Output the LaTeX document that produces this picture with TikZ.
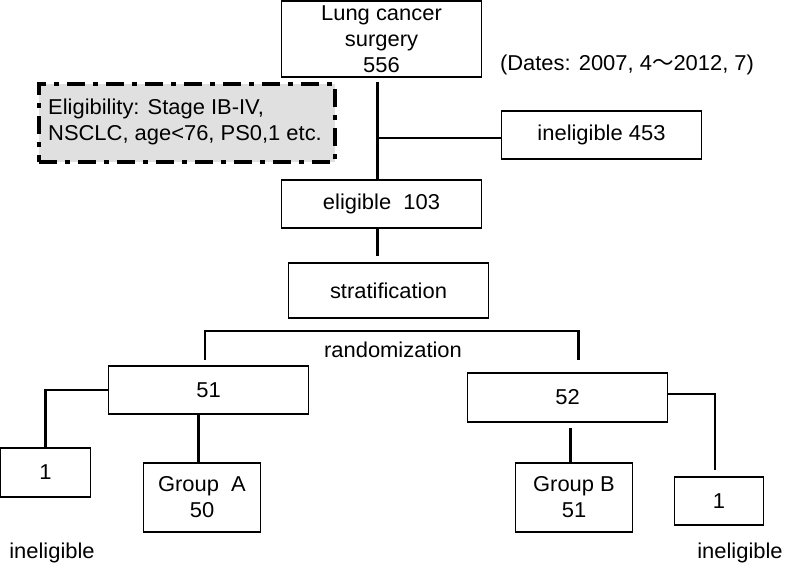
\documentclass[tikz,border=0pt]{standalone}
\usepackage{fontspec}
\setmainfont{Liberation Sans}[FakeStretch=1.02]
\newfontfamily\cjk{Noto Sans CJK JP}
\begin{document}
\begin{tikzpicture}[x=1pt,y=-1pt,
  box/.style={draw=black, line width=1.3pt, inner sep=0pt, minimum width=200pt, minimum height=48pt, align=center},
  conn/.style={line width=2.6pt, line cap=rect},
  lbl/.style={inner sep=0pt, align=center},
  every node/.append style={font=\fontsize{21.5}{26}\selectfont}]
\useasboundingbox (0,0) rectangle (786,567);
% boxes
\node[box, minimum height=76pt] (top) at (381.5,39) {Lung cancer\\surgery\\556};
\node[lbl] (dates) at (627,65) {(Dates: 2007, 4{\cjk ～}2012, 7)};
\node[draw=black, fill=black!12, line width=3.6pt, dash pattern=on 18pt off 8pt on 5pt off 8pt,
      minimum width=296pt, minimum height=78pt, inner sep=0pt] (elig) at (187,123) {};
\node[lbl, align=left, anchor=west] (eligtxt) at (48,122) {Eligibility: Stage IB-IV,\\NSCLC, age<76, PS0,1 etc.};
\node[box] (inel) at (601.5,135) {ineligible 453};
\node[box] (e103) at (381.5,204) {eligible\ \ 103};
\node[box, minimum height=55pt] (strat) at (388.5,290.5) {stratification};
\node[lbl] (rand) at (393,350) {randomization};
\node[box] (b51) at (208.5,390) {51};
\node[box, minimum height=49pt] (b52) at (567.5,397.5) {52};
\node[box, minimum width=90pt, minimum height=49pt] (l1) at (45.5,472.5) {1};
\node[box, minimum width=117pt, minimum height=69pt] (ga) at (202,497.5) {Group\ \ A\\50};
\node[box, minimum width=117pt, minimum height=69pt] (gb) at (574,497.5) {Group B\\51};
\node[box, minimum width=89pt, minimum height=48pt] (r1) at (719,501) {1};
\node[lbl] (inl) at (52,553) {ineligible};
\node[lbl] (inr) at (740,553) {ineligible};
% connectors
\coordinate (v0) at (377.5,83);
\coordinate (v1) at (377.5,138);
\draw[conn] (v0) -- (v0 |- e103.north);
\draw[conn] (v1) -- (v1 -| inel.west);
\coordinate (s0) at (377.5,228);
\coordinate (s1) at (377.5,255);
\draw[conn] (s0) -- (s1);
\coordinate (rl) at (205,359);
\coordinate (rr) at (578.5,359);
\draw[conn] (rl) -- (205,331) -- (578.5,331) -- (rr);
\draw[conn] (b51.west) -| (l1.north);
\coordinate (a0) at (198.5,414);
\draw[conn] (a0) -- (a0 |- ga.north);
\coordinate (bb0) at (570.5,429);
\draw[conn] (bb0) -- (bb0 |- gb.north);
\coordinate (rb) at (715,469);
\draw[conn] ([yshift=3.5pt]b52.east) -| (rb);
\end{tikzpicture}
\end{document}
